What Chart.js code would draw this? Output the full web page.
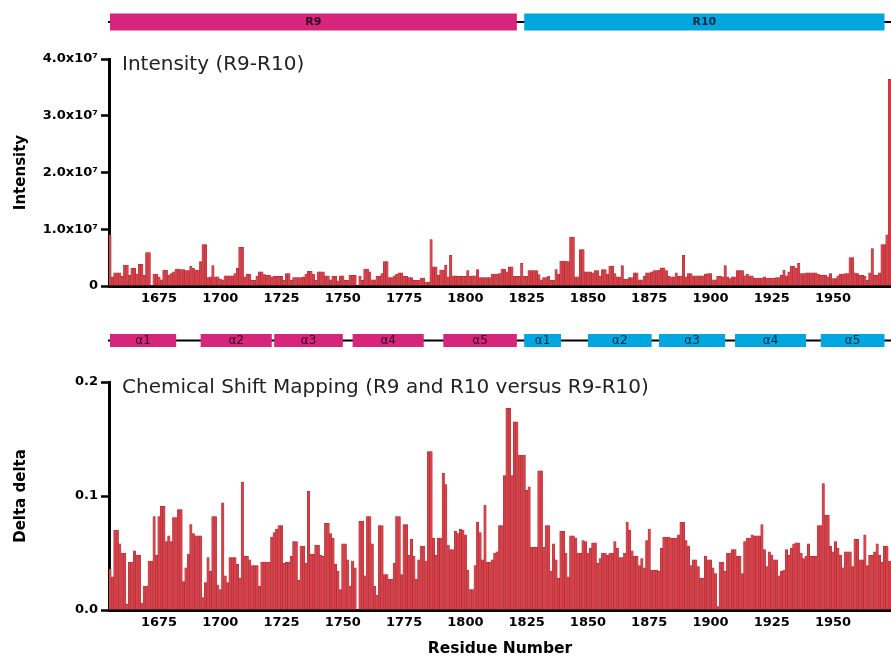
<!DOCTYPE html>
<html>
<head>
<meta charset="utf-8">
<title>R9-R10 intensity and chemical shift mapping</title>
<script src="https://cdn.jsdelivr.net/npm/chart.js@4.4.1/dist/chart.umd.min.js"></script>
<style>
	html, body { margin: 0; padding: 0; background: #ffffff; }
	#figure { position: relative; width: 891px; height: 658px; overflow: hidden; }
	#figure canvas { position: absolute; left: 0; }
	#intensity-chart { top: 0; }
	#shift-chart { top: 310px; }
</style>
</head>
<body>
<div id="figure">
	<canvas id="intensity-chart" width="891" height="310"></canvas>
	<canvas id="shift-chart" width="891" height="348"></canvas>
</div>
<script>
// ── Data ──────────────────────────────────────────────────

const firstResidue = 1655;

// peak intensity, in units of 10^6 (one value per residue from 1655)
const intensityMillions = [
	9.0, 1.6, 2.3, 2.3, 2.3, 1.7, 3.7, 3.7, 1.9, 3.1, // 1655
	3.1, 2.1, 3.8, 3.8, 1.9, 5.9, 5.9, 0.1, 2.1, 2.1, // 1665
	1.6, 1.1, 2.8, 2.8, 1.9, 2.2, 2.5, 3.0, 3.0, 2.9, // 1675
	2.9, 2.7, 2.7, 3.5, 3.1, 2.8, 2.8, 4.3, 7.3, 7.3, // 1685
	1.5, 1.6, 3.6, 1.6, 1.6, 1.2, 1.1, 1.8, 1.8, 1.8, // 1695
	1.8, 2.2, 3.1, 6.8, 6.8, 1.6, 2.1, 2.1, 1.0, 1.0, // 1705
	1.7, 2.5, 2.5, 2.0, 1.9, 1.9, 1.6, 1.7, 1.7, 1.7, // 1715
	1.7, 1.0, 2.2, 2.2, 1.0, 1.5, 1.5, 1.5, 1.5, 1.6, // 1725
	2.1, 2.6, 2.6, 2.1, 1.0, 2.5, 2.5, 2.5, 1.8, 1.8, // 1735
	1.1, 1.7, 1.7, 0.9, 1.8, 1.8, 1.0, 1.0, 1.9, 1.9, // 1745
	1.9, 0.0, 1.7, 1.0, 3.0, 3.0, 2.5, 1.1, 1.1, 1.7, // 1755
	1.7, 2.2, 4.3, 4.3, 1.5, 1.5, 1.8, 2.1, 2.3, 2.3, // 1765
	1.7, 1.7, 1.5, 1.5, 1.0, 1.0, 1.0, 1.4, 1.4, 0.7, // 1775
	0.7, 8.2, 3.4, 3.4, 1.9, 2.8, 2.8, 3.7, 1.6, 5.4, // 1785
	1.8, 1.8, 1.7, 1.7, 1.7, 1.7, 2.7, 1.7, 1.8, 1.8, // 1795
	2.9, 1.5, 1.5, 1.5, 1.5, 1.5, 2.1, 2.1, 2.1, 2.2, // 1805
	3.0, 3.0, 2.5, 3.4, 3.4, 1.7, 1.7, 1.7, 4.0, 1.7, // 1815
	1.7, 2.7, 2.7, 2.7, 2.7, 2.0, 1.1, 1.5, 1.5, 1.7, // 1825
	1.0, 1.0, 2.9, 2.1, 4.4, 4.4, 4.4, 4.3, 8.6, 8.6, // 1835
	1.6, 1.6, 6.4, 6.4, 2.5, 2.5, 2.5, 2.3, 2.7, 2.7, // 1845
	1.7, 2.9, 2.9, 2.1, 3.5, 3.5, 2.2, 1.6, 1.6, 3.6, // 1855
	1.2, 1.2, 1.5, 1.5, 2.3, 2.3, 1.1, 1.1, 1.7, 2.3, // 1865
	2.3, 2.5, 2.7, 2.7, 2.8, 3.2, 3.2, 2.7, 1.7, 1.6, // 1875
	1.6, 2.3, 1.7, 1.7, 5.4, 1.6, 2.2, 2.2, 1.8, 1.8, // 1885
	1.8, 1.8, 1.8, 2.1, 2.2, 2.2, 1.1, 1.1, 1.7, 1.7, // 1895
	1.6, 3.6, 1.6, 1.3, 1.6, 1.6, 2.7, 2.7, 2.7, 1.8, // 1905
	2.1, 1.8, 1.8, 1.4, 1.4, 1.4, 1.4, 1.6, 1.4, 1.4, // 1915
	1.4, 1.4, 1.5, 1.5, 1.9, 2.8, 1.8, 2.5, 3.5, 3.5, // 1925
	3.1, 4.0, 2.2, 2.2, 2.3, 2.3, 2.3, 2.3, 2.3, 2.1, // 1935
	1.9, 1.9, 1.9, 1.6, 2.2, 1.3, 1.3, 1.8, 2.1, 2.1, // 1945
	2.2, 2.2, 5.0, 5.0, 2.3, 2.2, 1.9, 1.9, 1.7, 1.0, // 1955
	2.3, 6.6, 1.9, 1.9, 2.3, 7.3, 7.3, 9.0, 36.4, // 1965
];

// combined chemical shift difference (one value per residue from 1655)
const deltaDelta = [
	0.036, 0.029, 0.070, 0.070, 0.058, 0.050, 0.050, 0.005, 0.042, 0.042, // 1655
	0.052, 0.048, 0.048, 0.006, 0.021, 0.021, 0.043, 0.043, 0.082, 0.048, // 1665
	0.082, 0.091, 0.091, 0.060, 0.065, 0.060, 0.081, 0.081, 0.088, 0.088, // 1675
	0.025, 0.037, 0.049, 0.075, 0.067, 0.065, 0.065, 0.065, 0.011, 0.024, // 1685
	0.046, 0.034, 0.082, 0.082, 0.022, 0.018, 0.094, 0.030, 0.024, 0.046, // 1695
	0.046, 0.046, 0.040, 0.028, 0.112, 0.047, 0.047, 0.044, 0.039, 0.039, // 1705
	0.039, 0.021, 0.042, 0.042, 0.042, 0.042, 0.064, 0.068, 0.071, 0.074, // 1715
	0.074, 0.041, 0.042, 0.042, 0.047, 0.060, 0.060, 0.026, 0.056, 0.056, // 1725
	0.041, 0.104, 0.049, 0.049, 0.057, 0.057, 0.048, 0.047, 0.076, 0.076, // 1735
	0.067, 0.063, 0.040, 0.034, 0.018, 0.058, 0.058, 0.044, 0.021, 0.043, // 1745
	0.037, 0.000, 0.078, 0.078, 0.030, 0.082, 0.082, 0.058, 0.021, 0.013, // 1755
	0.074, 0.074, 0.031, 0.031, 0.027, 0.027, 0.041, 0.082, 0.082, 0.031, // 1765
	0.075, 0.075, 0.048, 0.062, 0.047, 0.027, 0.044, 0.056, 0.056, 0.043, // 1775
	0.139, 0.139, 0.063, 0.048, 0.063, 0.063, 0.120, 0.110, 0.057, 0.053, // 1785
	0.053, 0.069, 0.067, 0.071, 0.070, 0.066, 0.035, 0.018, 0.018, 0.039, // 1795
	0.077, 0.068, 0.044, 0.092, 0.042, 0.042, 0.044, 0.050, 0.051, 0.074, // 1805
	0.074, 0.118, 0.177, 0.177, 0.118, 0.165, 0.165, 0.136, 0.136, 0.136, // 1815
	0.105, 0.108, 0.055, 0.055, 0.055, 0.122, 0.122, 0.055, 0.074, 0.074, // 1825
	0.034, 0.058, 0.044, 0.028, 0.069, 0.069, 0.050, 0.029, 0.065, 0.065, // 1835
	0.063, 0.050, 0.050, 0.061, 0.060, 0.050, 0.054, 0.059, 0.059, 0.041, // 1845
	0.045, 0.050, 0.050, 0.048, 0.050, 0.050, 0.060, 0.054, 0.046, 0.046, // 1855
	0.050, 0.077, 0.070, 0.052, 0.047, 0.047, 0.039, 0.045, 0.037, 0.061, // 1865
	0.071, 0.035, 0.035, 0.035, 0.034, 0.054, 0.064, 0.064, 0.064, 0.063, // 1875
	0.063, 0.063, 0.066, 0.077, 0.077, 0.061, 0.056, 0.039, 0.044, 0.044, // 1885
	0.038, 0.028, 0.028, 0.047, 0.044, 0.044, 0.037, 0.032, 0.003, 0.042, // 1895
	0.042, 0.034, 0.050, 0.050, 0.053, 0.053, 0.047, 0.047, 0.032, 0.060, // 1905
	0.063, 0.063, 0.066, 0.065, 0.065, 0.065, 0.075, 0.053, 0.038, 0.051, // 1915
	0.048, 0.044, 0.044, 0.030, 0.034, 0.035, 0.053, 0.048, 0.054, 0.058, // 1925
	0.059, 0.059, 0.050, 0.045, 0.047, 0.058, 0.047, 0.047, 0.047, 0.074, // 1935
	0.074, 0.111, 0.083, 0.083, 0.056, 0.051, 0.060, 0.054, 0.048, 0.037, // 1945
	0.051, 0.051, 0.051, 0.038, 0.062, 0.062, 0.044, 0.044, 0.066, 0.039, // 1955
	0.048, 0.048, 0.051, 0.058, 0.048, 0.042, 0.056, 0.056, 0.043, // 1965
];

const residueTicks = [ 1675, 1700, 1725, 1750, 1775, 1800, 1825, 1850, 1875, 1900, 1925, 1950 ];
const intensityTicks = [ 0, 10, 20, 30, 40 ];
const deltaTicks = [ 0, 0.1, 0.2 ];

// repeat domains (residue ranges)
const domainLabels = [ 'R9', 'R10' ];
const domainStarts = [ 1655, 1824 ];
const domainEnds = [ 1821, 1971 ];

// helices of each repeat (residue ranges)
const helixLabels = [ 'α1', 'α2', 'α3', 'α4', 'α5', 'α1', 'α2', 'α3', 'α4', 'α5' ];
const helixRepeat = [ 'R9', 'R9', 'R9', 'R9', 'R9', 'R10', 'R10', 'R10', 'R10', 'R10' ];
const helixStarts = [ 1655, 1692, 1722, 1754, 1791, 1824, 1850, 1879, 1910, 1945 ];
const helixEnds = [ 1682, 1721, 1750, 1783, 1821, 1839, 1876, 1906, 1939, 1971 ];

( function () {
	'use strict';

	// ── Palette ───────────────────────────────────────────────

	const colors = {
		bar: '#d8434b',
		barEdge: '#a02a30',
		ink: '#000000',
		text: '#222222',
		R9: '#d6267c',
		R10: '#00a6dd',
		R9Text: '#2e0a1c',
		R10Text: '#0a2b46',
	};

	const fontFamily = "'DejaVu Sans', 'Liberation Sans', sans-serif";
	Chart.defaults.font.family = fontFamily;
	Chart.defaults.color = colors.ink;

	const residues = intensityMillions.map( ( v, i ) => firstResidue + i );
	const xMin = 1654.6;
	const xMax = 1973.65;

	// ── Track plugin: domain / helix bar + panel title ───────

	const trackPlugin = {
		id: 'domainTrack',
		afterDraw( chart, args, opts ) {
			const { ctx, chartArea } = chart;
			const x = chart.scales.x;

			ctx.save();
			ctx.strokeStyle = colors.ink;
			ctx.lineWidth = 2;
			ctx.beginPath();
			ctx.moveTo( chartArea.left - 1, opts.y );
			ctx.lineTo( chartArea.right, opts.y );
			ctx.stroke();

			ctx.textAlign = 'center';
			ctx.textBaseline = 'middle';
			ctx.font = opts.font;
			opts.labels.forEach( ( label, i ) => {
				const x0 = x.getPixelForValue( opts.starts[ i ] );
				const x1 = x.getPixelForValue( opts.ends[ i ] );
				const key = opts.groups[ i ];
				ctx.fillStyle = colors[ key ];
				ctx.fillRect( x0, opts.y - opts.h / 2, x1 - x0, opts.h );
				ctx.fillStyle = colors[ key + 'Text' ];
				ctx.fillText( label, ( x0 + x1 ) / 2, opts.y + 0.5 );
			} );

			ctx.font = '20px ' + fontFamily;
			ctx.fillStyle = colors.text;
			ctx.textAlign = 'left';
			ctx.textBaseline = 'alphabetic';
			ctx.fillText( opts.title, chartArea.left + 13, opts.titleY );
			ctx.restore();
		},
	};

	const makeOptions = ( cfg ) => ( {
		responsive: false,
		animation: false,
		events: [],
		layout: { padding: { top: cfg.top, right: 0, bottom: 0, left: 0 } },
		plugins: {
			legend: { display: false },
			tooltip: { enabled: false },
			domainTrack: cfg.track,
		},
		scales: {
			x: {
				type: 'linear',
				offset: false,
				min: xMin,
				max: xMax,
				afterFit: ( scale ) => {
					scale.height = cfg.xHeight;
				},
				afterBuildTicks: ( scale ) => {
					scale.ticks = residueTicks.map( ( v ) => ( { value: v } ) );
				},
				grid: { display: false, drawTicks: false, offset: false },
				border: { display: true, width: 3, color: colors.ink },
				ticks: {
					padding: 5,
					maxRotation: 0,
					autoSkip: false,
					color: colors.ink,
					font: { size: 13, weight: 'bold' },
					callback: ( v ) => String( v ),
				},
				title: cfg.xTitle,
			},
			y: {
				min: 0,
				max: cfg.yMax,
				afterFit: ( scale ) => {
					scale.width = 109;
				},
				afterBuildTicks: ( scale ) => {
					scale.ticks = cfg.yTicks.map( ( v ) => ( { value: v } ) );
				},
				grid: {
					display: true,
					drawOnChartArea: false,
					drawTicks: true,
					tickLength: 8,
					tickWidth: 2.5,
					color: colors.ink,
				},
				border: { display: true, width: 3, color: colors.ink },
				ticks: {
					padding: 3,
					color: colors.ink,
					font: { size: 13, weight: 'bold' },
					callback: cfg.yFormat,
				},
				title: {
					display: true,
					text: cfg.yTitle,
					color: colors.ink,
					font: { size: 15, weight: 'bold' },
					padding: { top: 12, bottom: 0 },
				},
			},
		},
	} );

	const barDataset = ( values ) => ( {
		data: values.map( ( v, i ) => ( { x: residues[ i ], y: v } ) ),
		backgroundColor: colors.bar,
		borderColor: colors.barEdge,
		borderWidth: 0.5,
		barPercentage: 1,
		categoryPercentage: 1,
	} );

	// ── Intensity panel ───────────────────────────────────────

	new Chart( document.getElementById( 'intensity-chart' ), {
		type: 'bar',
		data: { datasets: [ barDataset( intensityMillions ) ] },
		plugins: [ trackPlugin ],
		options: makeOptions( {
			top: 59,
			xHeight: 24,
			yMax: 40,
			yTicks: intensityTicks,
			yTitle: 'Intensity',
			yFormat: ( v ) => ( v === 0 ? '0' : ( v / 10 ).toFixed( 1 ) + 'x10⁷' ),
			xTitle: { display: false },
			track: {
				y: 22,
				h: 17,
				font: 'bold 11px ' + fontFamily,
				labels: domainLabels,
				groups: domainLabels,
				starts: domainStarts,
				ends: domainEnds,
				title: 'Intensity (R9-R10)',
				titleY: 70,
			},
		} ),
	} );

	// ── Chemical shift panel ──────────────────────────────────

	new Chart( document.getElementById( 'shift-chart' ), {
		type: 'bar',
		data: { datasets: [ barDataset( deltaDelta ) ] },
		plugins: [ trackPlugin ],
		options: makeOptions( {
			top: 72,
			xHeight: 48,
			yMax: 0.2,
			yTicks: deltaTicks,
			yTitle: 'Delta delta',
			yFormat: ( v ) => v.toFixed( 1 ),
			xTitle: {
				display: true,
				text: 'Residue Number',
				color: colors.ink,
				font: { size: 15.5, weight: 'bold' },
				padding: { top: 0, bottom: 0 },
			},
			track: {
				y: 30.5,
				h: 13,
				font: '12px ' + fontFamily,
				labels: helixLabels,
				groups: helixRepeat,
				starts: helixStarts,
				ends: helixEnds,
				title: 'Chemical Shift Mapping (R9 and R10 versus R9-R10)',
				titleY: 83,
			},
		} ),
	} );
} )();
</script>
</body>
</html>
